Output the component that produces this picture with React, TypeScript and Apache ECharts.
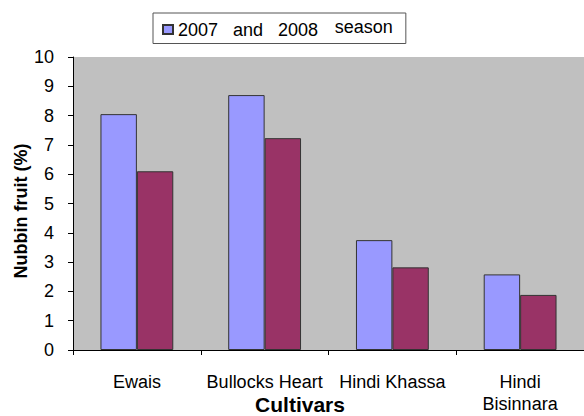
import React, { useEffect, useRef } from "react";
import * as echarts from "echarts";

const categories = ["Ewais", "Bullocks Heart", "Hindi Khassa", "Hindi\nBisinnara"];
const season2007 = [8.05, 8.7, 3.75, 2.58];
const season2008 = [6.1, 7.23, 2.82, 1.88];
const legendName = "2007 and 2008 season";
const yTicks = { min: 0, max: 10, interval: 1 };

const FONT = "Liberation Sans, Arial, sans-serif";

export default function App() {
  const ref = useRef<HTMLDivElement>(null);
  useEffect(() => {
    if (!ref.current) return;
    const chart = echarts.init(ref.current, undefined, { renderer: "svg" });
    chart.setOption({
      animation: false,
      backgroundColor: "#ffffff",
      textStyle: { fontFamily: FONT },
      legend: {
        data: [legendName],
        left: 153,
        top: 13,
        padding: [5, 13, 5, 9],
        borderColor: "#555555",
        borderWidth: 1,
        itemWidth: 10,
        itemHeight: 9,
        icon: "rect",
        selectedMode: false,
        formatter: () => "{a|2007   and   2008}     {b|season}",
        textStyle: {
          color: "#000",
          fontFamily: FONT,
          rich: {
            a: { fontSize: 18, fontFamily: FONT, color: "#000" },
            b: { fontSize: 18, fontFamily: FONT, color: "#000", padding: [0, 0, 5, 0] },
          },
        },
      },
      grid: { left: 73, top: 57, width: 518, height: 293, show: true, backgroundColor: "#C0C0C0", borderWidth: 0 },
      xAxis: {
        type: "category",
        data: categories,
        boundaryGap: true,
        axisLine: { lineStyle: { color: "#000", width: 1 } },
        axisTick: { show: true, alignWithLabel: false, length: 5, lineStyle: { color: "#000" } },
        axisLabel: { color: "#000", fontSize: 18, fontFamily: FONT, margin: 21, lineHeight: 22, interval: 0 },
        splitLine: { show: false },
      },
      yAxis: {
        type: "value",
        min: yTicks.min,
        max: yTicks.max,
        interval: yTicks.interval,
        axisLine: { show: true, lineStyle: { color: "#000", width: 1 } },
        axisTick: { show: true, length: 5, lineStyle: { color: "#000" } },
        axisLabel: { color: "#000", fontSize: 18, fontFamily: FONT, margin: 19 },
        splitLine: { show: false },
      },
      graphic: [
        {
          type: "text",
          x: 21,
          y: 211,
          rotation: Math.PI / 2,
          style: {
            text: "Nubbin fruit (%)",
            fontSize: 18,
            fontWeight: "bold",
            fontFamily: FONT,
            fill: "#000",
            textAlign: "center",
            textVerticalAlign: "middle",
          },
        },
        {
          type: "text",
          x: 300,
          y: 404,
          style: {
            text: "Cultivars",
            fontSize: 21,
            fontWeight: "bold",
            fontFamily: FONT,
            fill: "#000",
            textAlign: "center",
            textVerticalAlign: "middle",
          },
        },
      ],
      series: [
        {
          name: legendName,
          type: "bar",
          data: season2007,
          barGap: "0%",
          barCategoryGap: "43%",
          itemStyle: { color: "#9999FF", borderColor: "#333333", borderWidth: 1 },
        },
        {
          name: "2008",
          type: "bar",
          data: season2008,
          barGap: "0%",
          barCategoryGap: "43%",
          itemStyle: { color: "#993366", borderColor: "#333333", borderWidth: 1 },
        },
      ],
    });
    return () => chart.dispose();
  }, []);
  return (
    <div
      ref={ref}
      style={{ position: "absolute", left: 0, top: 0, width: 584, height: 416 }}
    />
  );
}
